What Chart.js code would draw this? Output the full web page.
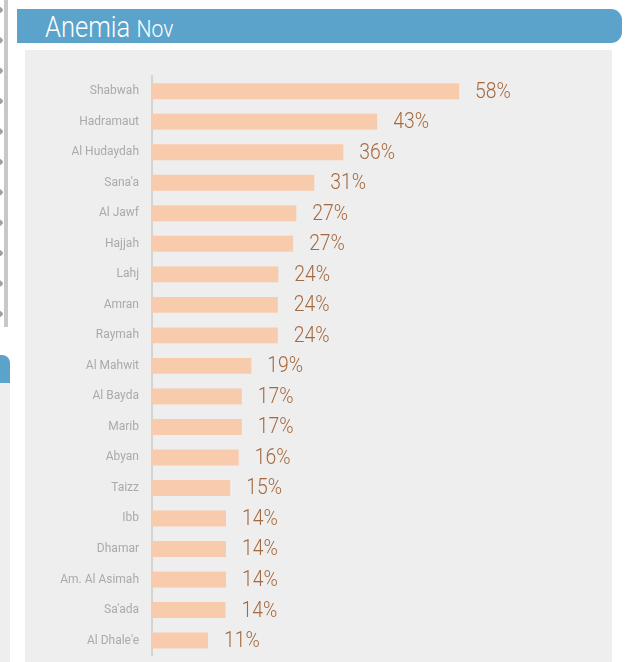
<!DOCTYPE html>
<html>
<head>
<meta charset="utf-8">
<script src="https://cdn.jsdelivr.net/npm/chart.js@4.4.0/dist/chart.umd.min.js"></script>
<style>
  body { margin: 0; background: #fff; width: 638px; height: 662px; overflow: hidden; position: relative; font-family: Roboto, sans-serif; }
  .header { position: absolute; left: 17px; top: 9px; width: 605px; height: 34px; background: #5ba3cb; border-radius: 0 11px 11px 0; }
  .header .t { position: absolute; left: 28px; top: 1px; color: #fff; font-size: 29px; font-weight: 300; white-space: nowrap; transform: scaleX(0.88); transform-origin: left center; }
  .header .t small { font-size: 24px; }
  .panel { position: absolute; left: 25px; top: 50px; width: 587px; height: 612px; background: #eeeeee; }
  .edge { position: absolute; left: 4px; top: 0; width: 4px; height: 327px; background: #c8c8c8; }
  .dots { position: absolute; left: -3px; top: 7px; width: 6px; height: 318px;
          background: radial-gradient(circle at 3px 3px, #a0a0a0 2.5px, transparent 3px) 0 0 / 6px 30.4px repeat-y; }
  .tab { position: absolute; left: 0; top: 355px; width: 10px; height: 28px; background: #5ba3cb; border-top-right-radius: 8px; }
  .tabbody { position: absolute; left: 0; top: 383px; width: 10px; height: 279px; background: #eeeeee; }
  canvas { position: absolute; left: 25px; top: 50px; }
</style>
</head>
<body>
<div class="edge"></div>
<div class="dots"></div>
<div class="tab"></div>
<div class="tabbody"></div>
<div class="header"><div class="t">Anemia <small>Nov</small></div></div>
<div class="panel"></div>
<canvas id="chart" width="587" height="626"></canvas>
<script>
const categories = ['Shabwah', 'Hadramaut', 'Al Hudaydah', "Sana'a", 'Al Jawf', 'Hajjah', 'Lahj', 'Amran', 'Raymah',
  'Al Mahwit', 'Al Bayda', 'Marib', 'Abyan', 'Taizz', 'Ibb', 'Dhamar', 'Am. Al Asimah', "Sa'ada", "Al Dhale'e"];
const anemiaValues = [58.1, 42.6, 36.2, 30.7, 27.3, 26.7, 23.9, 23.8, 23.8, 18.8, 17.0, 17.0, 16.4, 14.8, 14.0, 14.0, 14.0, 13.9, 10.6];

const valueLabels = {
  id: 'valueLabels',
  afterDatasetsDraw(chart) {
    const ctx = chart.ctx;
    const meta = chart.getDatasetMeta(0);
    ctx.save();
    ctx.fillStyle = '#a5693f';
    ctx.font = '300 22px Roboto, sans-serif';
    ctx.textBaseline = 'middle';
    ctx.textAlign = 'left';
    meta.data.forEach((bar, i) => {
      ctx.save();
      ctx.translate(bar.x + 16, bar.y + 1);
      ctx.scale(0.88, 1);
      ctx.fillText(Math.round(anemiaValues[i]) + '%', 0, 0);
      ctx.restore();
    });
    ctx.restore();
  }
};

new Chart(document.getElementById('chart'), {
  type: 'bar',
  data: {
    labels: categories,
    datasets: [{
      data: anemiaValues,
      backgroundColor: '#f8cbad',
      borderWidth: 0,
      barPercentage: 0.58,
      categoryPercentage: 0.9
    }]
  },
  options: {
    indexAxis: 'y',
    responsive: false,
    animation: false,
    layout: { padding: { left: 0, right: 90, top: 26, bottom: 0 } },
    plugins: { legend: { display: false }, tooltip: { enabled: false } },
    scales: {
      x: { display: false, min: 0, max: 70 },
      y: {
        afterFit(scale) { scale.width = 127; },
        grid: { display: true, color: 'transparent', drawTicks: false },
        border: { display: true, color: '#d3d3d3', width: 2 },
        ticks: { color: '#aaaaaa', padding: 13, font: { family: 'Roboto, sans-serif', size: 12 } }
      }
    }
  },
  plugins: [valueLabels]
});
</script>
</body>
</html>
